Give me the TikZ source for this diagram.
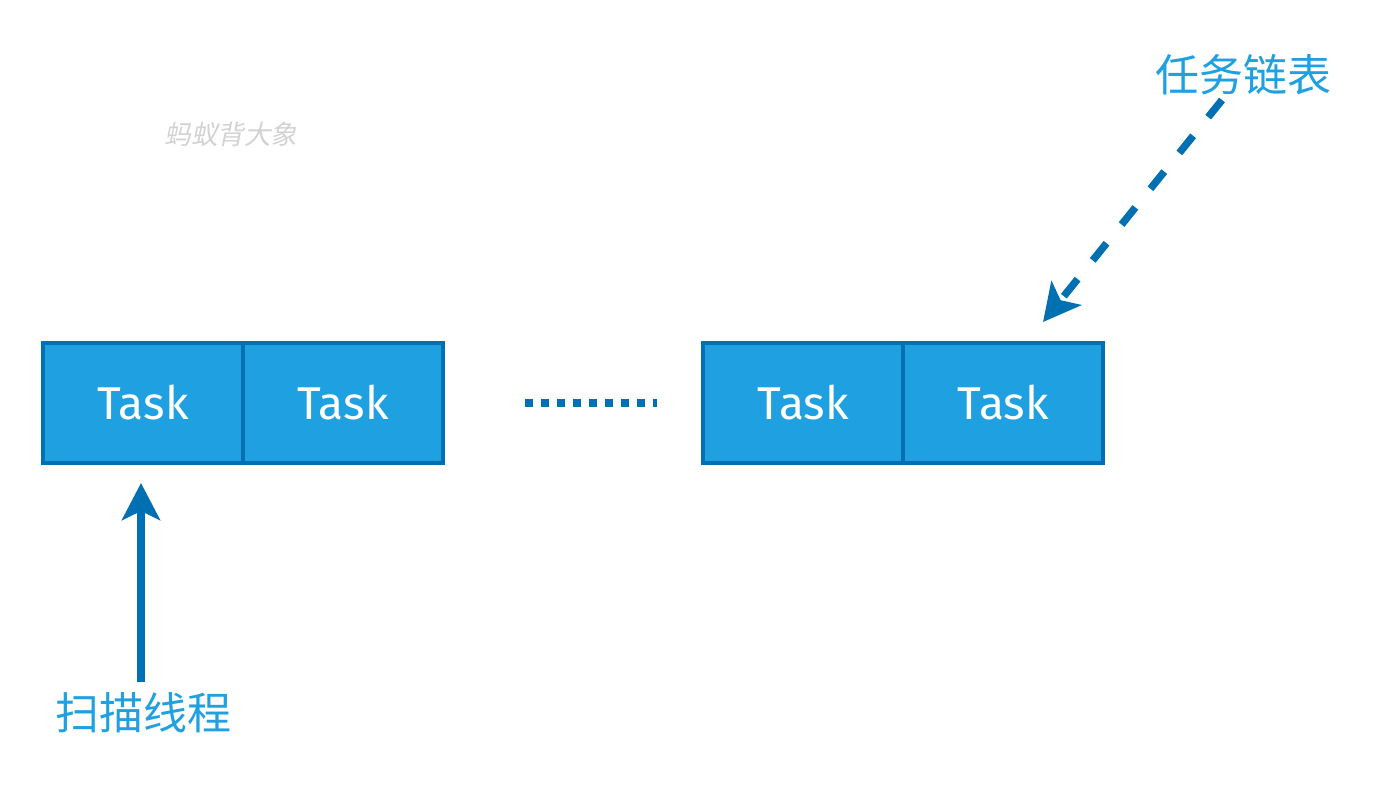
\documentclass[tikz,border=0pt]{standalone}
\usepackage{fontspec}
\usetikzlibrary{arrows.meta}
\newfontfamily\cjk{Noto Sans CJK SC}
\newfontfamily\cjkit[FakeSlant=0.2]{Noto Sans CJK SC}
\newfontfamily\taskfont{Fira Sans}
\definecolor{cellfill}{HTML}{1EA0E1}
\definecolor{celldraw}{HTML}{0070B2}
\definecolor{labelblue}{HTML}{1EA0E1}
\definecolor{wmgray}{HTML}{D2D2D2}
\tikzset{
  cell/.style={draw=celldraw, fill=cellfill, line width=1.8pt, minimum width=100pt, minimum height=60pt, inner sep=0pt, text=white, font=\taskfont\fontsize{23}{23}\selectfont},
  lbl/.style={text=labelblue, font=\cjk\fontsize{22}{22}\selectfont, inner sep=0pt},
  arr/.style={draw=celldraw, line width=3.7pt, -{Stealth[length=18.5pt, width=19pt, inset=4.5pt]}},
  dotline/.style={draw=celldraw, line width=4pt, dash pattern=on 4pt off 4pt}
}
\begin{document}
\begin{tikzpicture}[x=0.5pt, y=-0.5pt]
\useasboundingbox (0,0) rectangle (1384,784);
\node[cell] (t1) at (143,403) {Task};
\node[cell] (t2) at (343,403) {Task};
\node[cell] (t3) at (803,403) {Task};
\node[cell] (t4) at (1003,403) {Task};
\node[lbl] (scan) at (143,713) {扫描线程};
\node[lbl] (list) at (1243,75) {任务链表};
\node[text=wmgray, font=\cjkit\fontsize{13.3}{13.3}\selectfont, inner sep=0pt] (wm) at (231,134) {蚂蚁背大象};
\coordinate (s1) at (141,682);
\coordinate (e1) at (141,483);
\coordinate (s2) at (1222,100);
\coordinate (e2) at (1043,322);
\draw[arr] (s1) -- (e1);
\draw[arr, dash pattern=on 11pt off 12pt] (s2) -- (e2);
\draw[dotline] ([xshift=40pt]t2.east) -- ([xshift=-22pt]t3.west);
\end{tikzpicture}
\end{document}
